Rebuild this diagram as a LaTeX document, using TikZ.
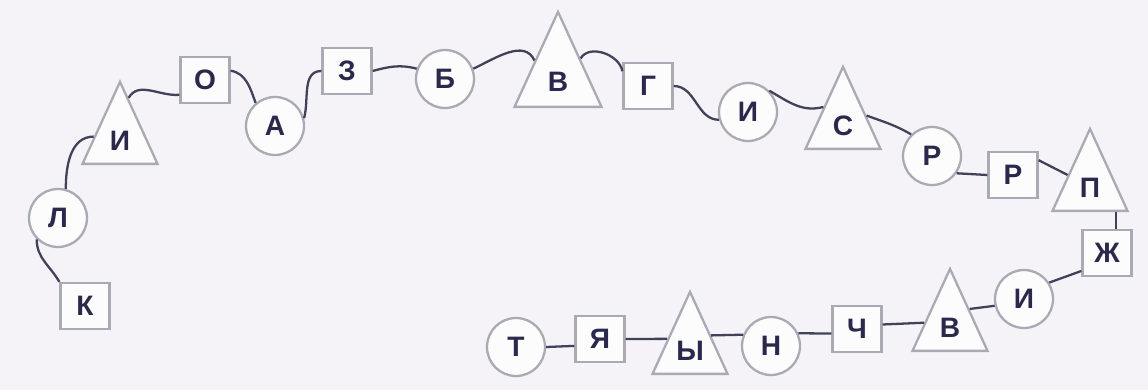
\documentclass[tikz,border=0pt]{standalone}
\usepackage{fontspec}
\setmainfont{Liberation Sans}
\usepackage{tikz}
\usetikzlibrary{shapes.geometric,calc}
\definecolor{paperbg}{RGB}{245,243,247}
\definecolor{inkline}{RGB}{66,65,90}
\definecolor{shapeedge}{RGB}{170,170,181}
\definecolor{shapefill}{RGB}{252,252,253}
\definecolor{letterink}{RGB}{42,41,76}
\tikzset{
  letter/.style={font=\fontsize{16}{16}\selectfont\bfseries, text=letterink, inner sep=0pt},
  sqbox/.style={rectangle, draw=shapeedge, fill=shapefill, line width=1.3pt, minimum width=0.98cm, minimum height=0.92cm, letter},
  rbox/.style={circle, draw=shapeedge, fill=shapefill, line width=1.3pt, minimum size=1.16cm, letter},
  tribox/.style={isosceles triangle, isosceles triangle stretches, shape border rotate=90, draw=shapeedge, fill=shapefill, line width=1.3pt, minimum width=1.5cm, minimum height=1.64cm, inner sep=0pt, anchor=lower side},
  bigtri/.style={tribox, minimum width=1.74cm, minimum height=1.9cm},
  link/.style={draw=inkline, line width=1.3pt},
}

\begin{document}
\begin{tikzpicture}[x=0.02cm, y=0.02cm]
  % paper
  \fill[paperbg] (0,0) rectangle (1148,390);
  \useasboundingbox (0,0) rectangle (1148,390);

  % square tiles
  \foreach \n/\x/\y/\t in {k/85/84/К, o/205/310/О, z/347/319/З, g/648/304/Г, rs/1013/215/Р, zh/1107/137/Ж, ch/857/61/Ч, ya/600/51/Я}
    \node[sqbox] (\n) at (\x,\y) {\t};

  % round tiles
  \foreach \n/\x/\y/\t in {l/58/172/Л, a/275/264/А, b/445/311/Б, i1/748/278/И, rc/932/234/Р, i2/1024/91/И, n/771/44/Н, t/516/43/Т}
    \node[rbox] (\n) at (\x,\y) {\t};

  % triangle tiles (placed by the middle of the base)
  \foreach \n/\x/\y/\t in {ti/120/225/И, ts/843/240/С, tp/1090/178/П, tv2/950/38/В, ty/690/15/Ы} {
    \node[tribox] (\n) at (\x,\y) {};
    \node[letter] (\n-t) at ($(\n.lower side)+(0,24)$) {\t};
  }
  \node[bigtri] (tv) at (558,282) {};
  \node[letter] (tv-t) at ($(tv.lower side)+(0,26)$) {В};

  % the string through the tiles
  \draw[link] (k.north west) to[out=120,in=-90] (l.225);
  \draw[link] (l.75) to[out=90,in=180] ($(ti.left corner)!0.33!(ti.apex)$);
  \draw[link] ($(ti.right corner)!0.78!(ti.apex)$) to[out=60,in=185] (o.210);
  \draw[link] (o.20) to[out=-10,in=110] (a.130);
  \draw[link] (a.15) to[out=75,in=180] (z.west);
  \draw[link] (z.east) to[out=15,in=165] (b.160);
  \draw[link] (b.20) to[out=25,in=115] ($(tv.left corner)!0.48!(tv.apex)$);
  \draw[link] ($(tv.right corner)!0.5!(tv.apex)$) to[out=60,in=100] (g.150);
  \draw[link] (g.east) to[out=0,in=180] (i1.195);
  \draw[link] (i1.45) to[out=-30,in=195] ($(ts.left corner)!0.5!(ts.apex)$);
  \draw[link] ($(ts.right corner)!0.4!(ts.apex)$) to[out=-20,in=150] (rc.134);
  \draw[link] (rc.-35) -- (rs.west);
  \draw[link] (rs.30) -- ($(tp.left corner)!0.43!(tp.apex)$);
  \draw[link] (zh.70) -- (zh.70 |- tp.lower side);
  \draw[link] (zh.215) -- (i2.33);
  \draw[link] (i2.193) -- ($(tv2.right corner)!0.5!(tv2.apex)$);
  \draw[link] ($(tv2.left corner)!0.34!(tv2.apex)$) -- (ch.10);
  \draw[link] (ch.190) -- (n.25);
  \draw[link] (n.158) -- ($(ty.right corner)!0.46!(ty.apex)$);
  \draw[link] ($(ty.left corner)!0.42!(ty.apex)$) -- (ya.east);
  \draw[link] (ya.195) -- (t.east);
\end{tikzpicture}
\end{document}
